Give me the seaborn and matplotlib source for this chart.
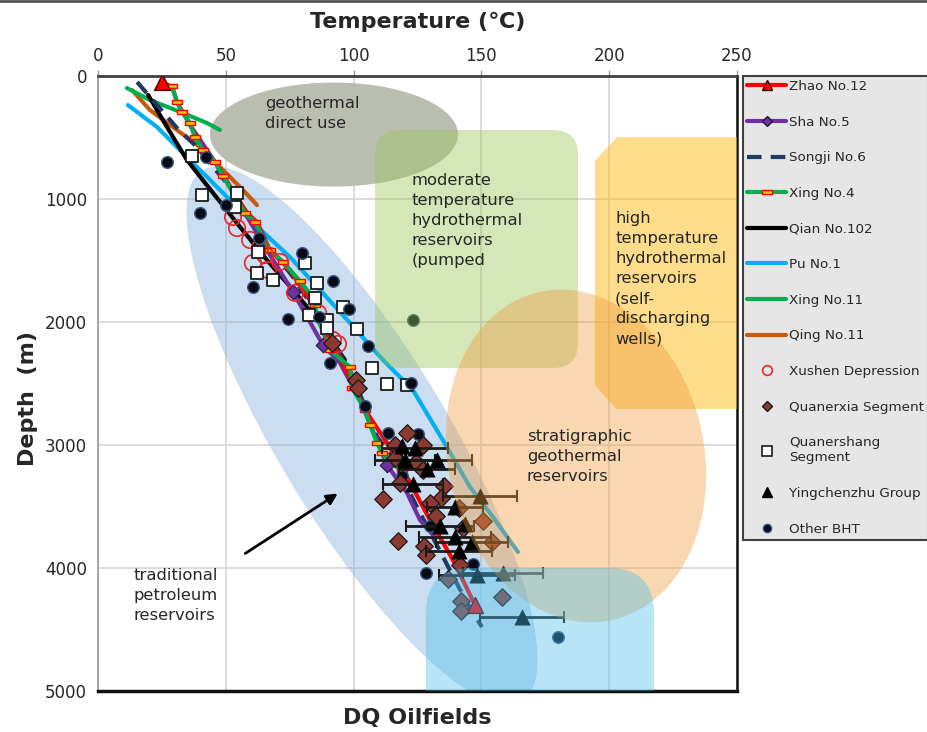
import numpy as np
import pandas as pd
import matplotlib
matplotlib.use("Agg")
import matplotlib.pyplot as plt
import seaborn as sns
from matplotlib.patches import Polygon, FancyBboxPatch
from matplotlib.lines import Line2D
from matplotlib.path import Path

# ------------------------------------------------------------------ data
# well temperature profiles: temperature (degC) vs depth (m)
zhao12_T = [25.0, 29.0, 30.9, 36.0, 41.1, 45.8, 48.9, 58.3, 62.2, 67.3, 75.1, 82.9, 91.9, 99.8, 103.7, 113.1, 120.9, 129.9, 138.9, 147.5]
zhao12_D = [49, 89, 211, 398, 602, 699, 805, 1114, 1187, 1415, 1577, 1821, 2171, 2512, 2691, 2984, 3260, 3610, 3935, 4301]

sha5_T = [36.0, 45.8, 55.6, 67.3, 76.3, 88.0, 94.7, 102.5, 113.1, 120.9, 126.0, 131.8]
sha5_D = [398, 699, 1049, 1455, 1756, 2187, 2333, 2634, 3163, 3390, 3610, 3748]

songji6_T = [15.3, 23.1, 30.9, 38.7, 45.0, 52.8, 63.4, 76.3, 86.9, 99.8, 109.2, 114.2, 124.8, 135.0, 144.4, 150.2]
songji6_D = [49, 236, 423, 577, 740, 927, 1293, 1634, 1967, 2447, 2935, 3065, 3504, 3911, 4285, 4480]

xing4_T = [29.0, 30.9, 32.9, 36.0, 37.9, 41.1, 45.8, 48.9, 57.5, 61.4, 67.3, 72.4, 79.0, 83.7, 84.9, 85.7, 90.8, 98.6, 99.4, 104.5, 106.4, 109.2, 111.1, 114.2, 118.9]
xing4_D = [81, 211, 293, 382, 496, 602, 699, 813, 1114, 1187, 1415, 1512, 1667, 1789, 1862, 1959, 2228, 2366, 2537, 2715, 2837, 2984, 3065, 3146, 3203]

qian102_T = [19.6, 27.0, 34.8, 45.0, 55.6, 66.1, 76.3, 86.9, 96.6]
qian102_D = [154, 415, 683, 951, 1228, 1496, 1740, 2008, 2309]

pu1_T = [11.7, 23.1, 34.8, 45.0, 59.5, 75.1, 86.9, 98.6, 111.5, 123.2, 136.5, 145.5, 154.5, 164.3]
pu1_D = [236, 415, 659, 870, 1171, 1472, 1740, 2008, 2309, 2553, 3016, 3341, 3585, 3870]

xing11_T = [11.3, 20.3, 33.3, 42.6, 47.7]
xing11_D = [98, 195, 301, 382, 439]

qing11_T = [13.3, 20.3, 29.3, 39.9, 48.9, 56.7, 62.2]
qing11_D = [114, 276, 415, 577, 764, 927, 1049]

# point measurements
xushen_T = [52.8, 54.4, 59.5, 63.4, 60.6, 66.5, 71.2, 65.3, 77.1, 86.1, 91.9, 93.9]
xushen_D = [1146, 1236, 1333, 1398, 1520, 1577, 1512, 1455, 1764, 1927, 2146, 2179]

quanerxia_T = [91.5, 100.9, 101.7, 116.2, 116.2, 120.9, 127.2, 124.4, 127.2, 118.2, 135.4, 111.5, 134.2, 129.9,
               132.2, 141.2, 142.8, 150.6, 117.4, 127.5, 128.3, 154.1, 141.6, 136.9, 142.0, 158.1, 142.0]
quanerxia_D = [2171, 2472, 2537, 3000, 3106, 2902, 3000, 3138, 3203, 3309, 3333, 3439, 3431, 3472,
               3577, 3512, 3675, 3618, 3780, 3821, 3894, 3789, 3976, 4089, 4268, 4236, 4350]

quanershang_T = [36.8, 40.7, 54.4, 53.6, 62.6, 62.2, 68.5, 81.0, 85.7, 84.9, 95.9, 89.6, 89.6, 101.3, 107.2, 113.1, 82.6, 120.9]
quanershang_D = [650, 967, 951, 1065, 1431, 1602, 1659, 1520, 1683, 1805, 1878, 1984, 2049, 2057, 2374, 2504, 1943, 2512]

ying_T = [118.9, 124.0, 120.1, 132.6, 128.7, 123.2, 149.4, 139.7, 133.8, 143.6, 139.7, 146.3, 141.2, 148.3, 158.5, 165.9]
ying_D = [3008, 3024, 3122, 3122, 3195, 3317, 3415, 3504, 3659, 3642, 3748, 3789, 3862, 4057, 4041, 4399]
ying_err = [0, 13.0, 11.7, 13.7, 11.0, 11.7, 14.5, 11.0, 13.3, 0, 14.0, 14.0, 13.0, 15.0, 15.6, 16.6]

bht_T = [27.0, 42.3, 50.1, 39.9, 63.0, 60.6, 79.8, 91.9, 98.2, 74.3, 86.5, 105.6, 90.8, 122.5, 104.5,
         113.5, 125.2, 118.9, 129.9, 146.7, 128.3, 123.2, 180.0]
bht_D = [699, 659, 1049, 1114, 1317, 1715, 1439, 1667, 1894, 1976, 1959, 2195, 2333, 2496, 2683,
         2902, 2911, 3252, 3659, 3967, 4041, 1984, 4561]

x_ticks = [0, 50, 100, 150, 200, 250]
y_ticks = [0, 1000, 2000, 3000, 4000, 5000]

# ------------------------------------------------------------------ style
sns.set_style("white")
plt.rcParams["font.family"] = ["DejaVu Sans"]

W, H = 927, 732
fig = plt.figure(figsize=(W / 100, H / 100), dpi=100)
L, T_, R, B = 98, 76, 737, 691
ax = fig.add_axes([L / W, 1 - B / H, (R - L) / W, (B - T_) / H])
ax.set_xlim(0, 250)
ax.set_ylim(5000, 0)
KX = (R - L) / 250.0
KY = (B - T_) / 5000.0

ax.set_axisbelow(True)
ax.grid(True, color="#d9d9d9", lw=1.3)
ax.set_xticks(x_ticks)
ax.set_yticks(y_ticks)
ax.xaxis.tick_top()
ax.tick_params(axis="both", labelsize=12, length=4, color="#999999", width=1, pad=4)
ax.spines["top"].set_color("#404040"); ax.spines["top"].set_linewidth(2)
ax.spines["bottom"].set_color("#111111"); ax.spines["bottom"].set_linewidth(2.5)
ax.spines["right"].set_color("#111111"); ax.spines["right"].set_linewidth(1.8)
ax.spines["left"].set_color("#999999"); ax.spines["left"].set_linewidth(1.2)


def ellipse_pts(T0, D0, a_px, b_px, ang):
    t = np.linspace(0, 2 * np.pi, 300)
    x = a_px * np.cos(t)
    y = b_px * np.sin(t)
    c, s = np.cos(np.radians(ang)), np.sin(np.radians(ang))
    xr = x * c - y * s
    yr = x * s + y * c
    return np.column_stack([T0 + xr / KX, D0 + yr / KY])


# background zones (below data)
ax.add_patch(Polygon(ellipse_pts(92.3, 476, 124, 52, 0), closed=True,
                     fc="#b8bcaf", ec="none", alpha=0.97, zorder=1))
ax.add_patch(Polygon(ellipse_pts(103.3, 2927, 310, 85, 59), closed=True,
                     fc="#8cb5de", ec="none", alpha=0.45, zorder=1.5))

# ------------------------------------------------------------------ lines
rect_marker = Path([(-1, -0.45), (1, -0.45), (1, 0.45), (-1, 0.45), (-1, -0.45)],
                   [Path.MOVETO, Path.LINETO, Path.LINETO, Path.LINETO, Path.CLOSEPOLY])

line_specs = [
    (qing11_T, qing11_D, "#c55a11", "-"),
    (xing11_T, xing11_D, "#00b050", "-"),
    (pu1_T, pu1_D, "#00b0f0", "-"),
    (qian102_T, qian102_D, "#000000", "-"),
    (songji6_T, songji6_D, "#1f3864", (0, (3.5, 2.2))),
    (sha5_T, sha5_D, "#7030a0", "-"),
    (zhao12_T, zhao12_D, "#ff0000", "-"),
]
for xs, ys, col, ls in line_specs:
    sns.lineplot(x=xs, y=ys, sort=False, estimator=None, color=col, linewidth=3,
                 linestyle=ls, ax=ax, legend=False, zorder=3)

sns.lineplot(x=xing4_T, y=xing4_D, sort=False, estimator=None, color="#00b050", linewidth=3,
             marker=rect_marker, markersize=6.5, markerfacecolor="#ffc000",
             markeredgecolor="#ff0000", markeredgewidth=1.0, ax=ax, legend=False, zorder=3.2)

# Sha No.5 diamond markers
sha_idx = [4, 5, 8]
sns.scatterplot(x=[sha5_T[i] for i in sha_idx], y=[sha5_D[i] for i in sha_idx], marker="D",
                s=55, color="#7030a0", edgecolor="#1a1a40", linewidth=0.8, ax=ax, zorder=3.3)

# ------------------------------------------------------------------ points
sns.scatterplot(x=xushen_T, y=xushen_D, marker="o", s=140, facecolor="none",
                edgecolor="#e8262a", linewidth=1.2, ax=ax, zorder=4)
sns.scatterplot(x=quanershang_T, y=quanershang_D, marker="s", s=85, facecolor="white",
                edgecolor="#1a1a1a", linewidth=1.3, ax=ax, zorder=4)
sns.scatterplot(x=bht_T, y=bht_D, marker="o", s=70, color="#0a0a14",
                edgecolor="#3a5a8a", linewidth=1.0, ax=ax, zorder=4.1)
sns.scatterplot(x=quanerxia_T, y=quanerxia_D, marker="D", s=80, color="#8b3a32",
                edgecolor="#1a1a1a", linewidth=0.9, ax=ax, zorder=4.2)
ax.errorbar(ying_T, ying_D, xerr=ying_err, fmt="none", ecolor="#1a1a1a", elinewidth=2,
            capsize=4, capthick=1.5, zorder=4.3)
sns.scatterplot(x=ying_T, y=ying_D, marker="^", s=120, color="#000000",
                edgecolor="#000000", linewidth=0.5, ax=ax, zorder=4.4)
# Zhao No.12 end markers
sns.scatterplot(x=[zhao12_T[0], zhao12_T[-1]], y=[zhao12_D[0], zhao12_D[-1]], marker="^",
                s=130, color="#ff0000", edgecolor="#400000", linewidth=1.0, ax=ax, zorder=4.5)

# ------------------------------------------------------------------ overlay zones
MA = KX / KY  # mutation aspect so that corners look round on screen
ax.add_patch(FancyBboxPatch((108.4, 439), 187.8 - 108.4, 2374 - 439,
                            boxstyle="round,pad=0,rounding_size=%f" % (25 / KX),
                            mutation_aspect=MA,
                            fc="#96c550", ec="none", alpha=0.4, zorder=5))
ax.add_patch(Polygon([(194.4, 691), (203.1, 496), (252, 496), (252, 2707), (202.7, 2707), (194.4, 2512)],
                     closed=True, fc="#fdbc18", ec="none", alpha=0.5, zorder=5))
ax.add_patch(Polygon(ellipse_pts(187.0, 3089, 168, 128, 77.5), closed=True,
                     fc="#f09b3c", ec="none", alpha=0.4, zorder=5.1))
ax.add_patch(FancyBboxPatch((128.3, 4000), 217.5 - 128.3, 1400,
                            boxstyle="round,pad=0,rounding_size=%f" % (45 / KX),
                            mutation_aspect=MA,
                            fc="#4bc0ed", ec="none", alpha=0.4, zorder=5.2))

# ------------------------------------------------------------------ annotations
tkw = dict(fontsize=11.8, color="#262626", va="top", ha="left", linespacing=1.42, zorder=7)
ax.text(65.3, 165, "geothermal\ndirect use", **tkw)
ax.text(122.8, 790, "moderate\ntemperature\nhydrothermal\nreservoirs\n(pumped", **tkw)
ax.text(202.3, 1100, "high\ntemperature\nhydrothermal\nreservoirs\n(self-\ndischarging\nwells)", **tkw)
ax.text(167.8, 2870, "stratigraphic\ngeothermal\nreservoirs", **tkw)
ax.text(13.7, 4000, "traditional\npetroleum\nreservoirs", **tkw)
ax.annotate("", xy=(94.7, 3382), xytext=(56.7, 3894),
            arrowprops=dict(arrowstyle="-|>", color="black", lw=2, mutation_scale=16), zorder=7)

# ------------------------------------------------------------------ labels
fig.text(417.5 / W, 1 - 22 / H, "Temperature (\u2103)", fontsize=16, fontweight="bold",
         ha="center", va="center")
fig.text(417.5 / W, 1 - 718 / H, "DQ Oilfields", fontsize=16, fontweight="bold",
         ha="center", va="center")
fig.text(28 / W, 1 - 398 / H, "Depth  (m)", fontsize=16, fontweight="bold",
         ha="center", va="center", rotation=90)
fig.add_artist(Line2D([0, 1], [0.9985, 0.9985], color="#555555", lw=2, transform=fig.transFigure))

# ------------------------------------------------------------------ legend
handles = [
    Line2D([], [], color="#ff0000", lw=3, marker="^", ms=7, mfc="#ff0000", mec="#300000"),
    Line2D([], [], color="#7030a0", lw=3, marker="D", ms=5, mfc="#7030a0", mec="#1a1a40"),
    Line2D([], [], color="#1f3864", lw=3, ls=(0, (3.5, 2.2))),
    Line2D([], [], color="#00b050", lw=3, marker=rect_marker, ms=7, mfc="#ffc000", mec="#ff0000"),
    Line2D([], [], color="#000000", lw=3),
    Line2D([], [], color="#00b0f0", lw=3),
    Line2D([], [], color="#00b050", lw=3),
    Line2D([], [], color="#c55a11", lw=3),
    Line2D([], [], ls="none", marker="o", ms=7, mfc="none", mec="#e8262a", mew=1.2),
    Line2D([], [], ls="none", marker="D", ms=5.5, mfc="#8b3a32", mec="#1a1a1a"),
    Line2D([], [], ls="none", marker="s", ms=7, mfc="white", mec="#1a1a1a", mew=1.2),
    Line2D([], [], ls="none", marker="^", ms=7, mfc="black", mec="black"),
    Line2D([], [], ls="none", marker="o", ms=6, mfc="#0a0a14", mec="#3a5a8a"),
]
labels = ["Zhao No.12", "Sha No.5", "Songji No.6", "Xing No.4", "Qian No.102", "Pu No.1",
          "Xing No.11", "Qing No.11", "Xushen Depression", "Quanerxia Segment",
          "Quanershang\nSegment", "Yingchenzhu Group", "Other BHT"]
leg = fig.legend(handles, labels, loc="upper left", bbox_to_anchor=(743 / W, 1 - 76 / H),
                 frameon=True, fancybox=False, framealpha=1, facecolor="#e6e6e6",
                 edgecolor="#404040", fontsize=9.7, handlelength=2.9, handletextpad=0.2,
                 labelspacing=1.68, borderpad=0.3, borderaxespad=0, numpoints=1)
leg.get_frame().set_linewidth(1.5)

fig.savefig("out.png", dpi=100)
